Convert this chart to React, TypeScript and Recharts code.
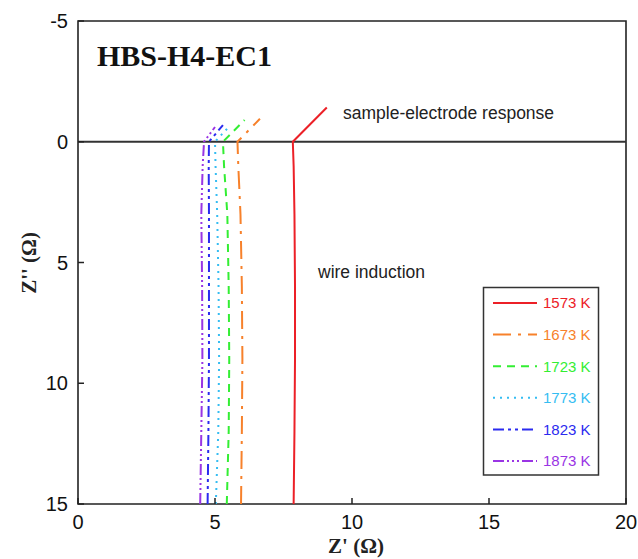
import React from "react";
import { LineChart, Line, XAxis, YAxis, ReferenceLine, ReferenceArea } from "recharts";

type Pt = { x: number; y: number };

// Z' (x) and Z'' (y) points, traced from bottom (Z''=15) up to the zero line, then the high-frequency tail
const s1573: Pt[] = [
  { x: 7.87, y: 15 }, { x: 7.9, y: 12 }, { x: 7.92, y: 9 }, { x: 7.92, y: 6 },
  { x: 7.9, y: 3 }, { x: 7.87, y: 1 }, { x: 7.84, y: 0 }, { x: 9.08, y: -1.42 },
];
const s1673: Pt[] = [
  { x: 5.95, y: 15 }, { x: 5.98, y: 12 }, { x: 6.0, y: 9 }, { x: 5.98, y: 6 },
  { x: 5.93, y: 3 }, { x: 5.85, y: 1 }, { x: 5.82, y: 0 }, { x: 6.64, y: -0.95 },
];
const s1723: Pt[] = [
  { x: 5.43, y: 15 }, { x: 5.5, y: 12 }, { x: 5.52, y: 9 }, { x: 5.5, y: 6 },
  { x: 5.45, y: 3 }, { x: 5.33, y: 1 }, { x: 5.29, y: 0 }, { x: 6.08, y: -0.9 },
];
const s1773: Pt[] = [
  { x: 5.03, y: 15 }, { x: 5.12, y: 12 }, { x: 5.15, y: 9 }, { x: 5.13, y: 6 },
  { x: 5.08, y: 3 }, { x: 5.02, y: 1 }, { x: 5.0, y: 0 }, { x: 5.45, y: -0.55 },
];
const s1823: Pt[] = [
  { x: 4.73, y: 15 }, { x: 4.76, y: 12 }, { x: 4.78, y: 9 }, { x: 4.78, y: 6 },
  { x: 4.78, y: 3 }, { x: 4.77, y: 1 }, { x: 4.78, y: 0 }, { x: 5.29, y: -0.69 },
];
const s1873: Pt[] = [
  { x: 4.46, y: 15 }, { x: 4.5, y: 12 }, { x: 4.54, y: 9 }, { x: 4.53, y: 6 },
  { x: 4.5, y: 3 }, { x: 4.55, y: 1 }, { x: 4.6, y: 0 }, { x: 5.0, y: -0.61 },
];

const seriesNames = ["1573 K", "1673 K", "1723 K", "1773 K", "1823 K", "1873 K"];
const seriesData = [s1573, s1673, s1723, s1773, s1823, s1873];
const seriesColors = ["#ec2027", "#f7812b", "#33ee33", "#35bdf2", "#2b2bef", "#9a35e4"];
const seriesDash = ["", "18 7 3 7", "8 6", "2 5", "11 4 3 4 3 4", "11 3 2 3 2 3 2 3"];

const xTicks = [0, 5, 10, 15, 20];
const yTicks = [-5, 0, 5, 10, 15];

const TITLE = "HBS-H4-EC1";
const NOTE_TOP = "sample-electrode response";
const NOTE_MID = "wire induction";
const X_LABEL = "Z' (Ω)";
const Y_LABEL = "Z'' (Ω)";

const SANS = "'Liberation Sans', Arial, Helvetica, sans-serif";
const SERIF = "'Liberation Serif', 'Times New Roman', serif";

const X_MARGIN = 11;
const Y_MARGIN = 10;

const XTick = (props: any) => {
  const { x, y, payload } = props;
  const axisY = y - X_MARGIN;
  return (
    <g>
      <line x1={x} x2={x} y1={axisY} y2={axisY - 6} stroke="#222" strokeWidth={1.5} />
      <text x={x} y={y + 14} textAnchor="middle" fontSize={20} fontFamily={SANS} fill="#111">
        {payload.value}
      </text>
    </g>
  );
};

const YTick = (props: any) => {
  const { x, y, payload } = props;
  const axisX = x + Y_MARGIN;
  return (
    <g>
      <line x1={axisX} x2={axisX + 6} y1={y} y2={y} stroke="#222" strokeWidth={1.5} />
      <text x={x} y={y + 7} textAnchor="end" fontSize={20} fontFamily={SANS} fill="#111">
        {payload.value}
      </text>
    </g>
  );
};

export default function App() {
  return (
    <div style={{ position: "absolute", left: 0, top: 0, width: 638, height: 559, background: "#fff" }}>
      <LineChart width={638} height={559} margin={{ top: 21, right: 12, bottom: 0, left: 28 }}>
        <XAxis
          type="number"
          dataKey="x"
          domain={[0, 20]}
          ticks={xTicks}
          interval={0}
          allowDataOverflow
          axisLine={false}
          tickLine={false}
          tickSize={0}
          tickMargin={X_MARGIN}
          height={55}
          tick={<XTick />}
        />
        <YAxis
          type="number"
          dataKey="y"
          domain={[-5, 15]}
          reversed
          ticks={yTicks}
          interval={0}
          allowDataOverflow
          axisLine={false}
          tickLine={false}
          tickSize={0}
          tickMargin={Y_MARGIN}
          width={50}
          tick={<YTick />}
        />
        <ReferenceArea x1={0} x2={20} y1={-5} y2={15} fill="none" fillOpacity={0} stroke="#222" strokeWidth={1.6} />
        <ReferenceLine y={0} stroke="#333" strokeWidth={1.8} />
        {seriesData.map((d, i) => (
          <Line
            key={seriesNames[i]}
            data={d}
            dataKey="y"
            name={seriesNames[i]}
            type="linear"
            stroke={seriesColors[i]}
            strokeWidth={2}
            strokeDasharray={seriesDash[i] || undefined}
            dot={false}
            activeDot={false}
            isAnimationActive={false}
          />
        ))}
      </LineChart>
      <svg width={638} height={559} style={{ position: "absolute", left: 0, top: 0, pointerEvents: "none" }}>
        <text x={97} y={66} fontSize={30} fontWeight="bold" fontFamily={SERIF} fill="#111">{TITLE}</text>
        <text x={343} y={119} fontSize={17.5} fontFamily={SANS} fill="#222">{NOTE_TOP}</text>
        <text x={318} y={278} fontSize={17.5} fontFamily={SANS} fill="#222">{NOTE_MID}</text>
        <text x={356} y={553} textAnchor="middle" fontSize={21} fontWeight="bold" fontFamily={SERIF} fill="#222">{X_LABEL}</text>
        <text transform="translate(36,263) rotate(-90)" textAnchor="middle" fontSize={21} fontWeight="bold" fontFamily={SERIF} fill="#222">{Y_LABEL}</text>
        <rect x={483.5} y={287.5} width={115} height={187.5} fill="#fff" stroke="#333" strokeWidth={1.5} />
        {seriesNames.map((n, i) => {
          const cy = 303 + i * 31.6;
          return (
            <g key={n}>
              <line x1={493} x2={537} y1={cy} y2={cy} stroke={seriesColors[i]} strokeWidth={2} strokeDasharray={seriesDash[i] || undefined} />
              <text x={543} y={cy + 5.3} fontSize={15} fontFamily={SANS} fill={seriesColors[i]}>{n}</text>
            </g>
          );
        })}
      </svg>
    </div>
  );
}
